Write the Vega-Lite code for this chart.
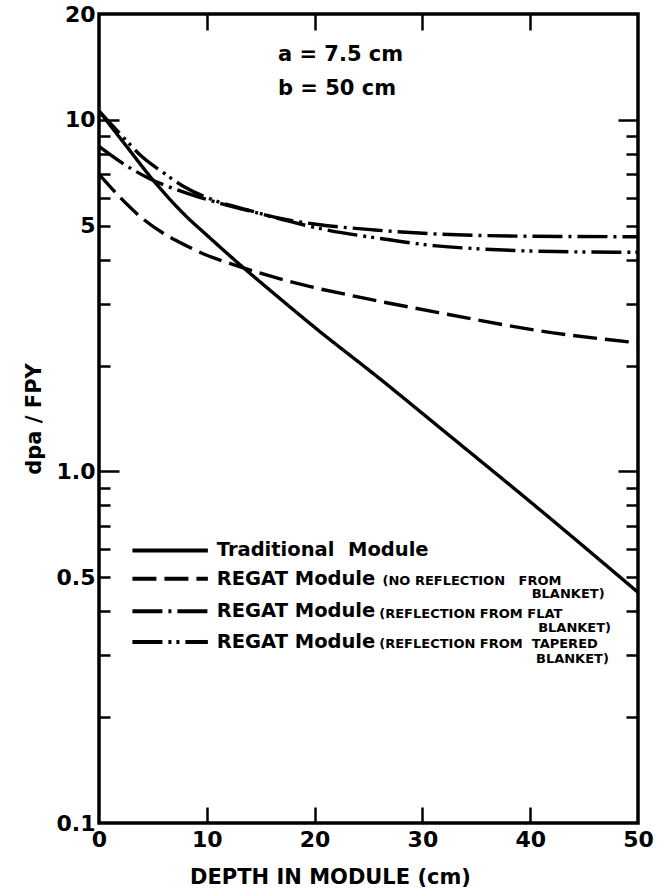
{
  "$schema": "https://vega.github.io/schema/vega-lite/v6.json",
  "autosize": {"type": "none"},
  "padding": {"left": 99, "top": 14, "right": 34, "bottom": 71},
  "width": 539,
  "height": 809,
  "background": "white",
  "config": {
    "view": {"stroke": "black", "strokeWidth": 3.5},
    "font": "DejaVu Sans",
    "axis": {"labelFont": "DejaVu Sans", "titleFont": "DejaVu Sans", "labelColor": "black", "titleColor": "black", "tickColor": "black", "grid": false}
  },
  "datasets": {
    "series": [
      {"series": "Traditional", "x": 0, "y": 10.6},
      {"series": "Traditional", "x": 2.5, "y": 8.45},
      {"series": "Traditional", "x": 5, "y": 6.75},
      {"series": "Traditional", "x": 8, "y": 5.35},
      {"series": "Traditional", "x": 10, "y": 4.7},
      {"series": "Traditional", "x": 13.3, "y": 3.82},
      {"series": "Traditional", "x": 16, "y": 3.25},
      {"series": "Traditional", "x": 20, "y": 2.57},
      {"series": "Traditional", "x": 26, "y": 1.84},
      {"series": "Traditional", "x": 32.3, "y": 1.28},
      {"series": "Traditional", "x": 40, "y": 0.82},
      {"series": "Traditional", "x": 50, "y": 0.453},
      {"series": "REGAT none", "x": 0, "y": 7.0},
      {"series": "REGAT none", "x": 2, "y": 6.0},
      {"series": "REGAT none", "x": 4, "y": 5.25},
      {"series": "REGAT none", "x": 6, "y": 4.75},
      {"series": "REGAT none", "x": 8, "y": 4.4},
      {"series": "REGAT none", "x": 10, "y": 4.12},
      {"series": "REGAT none", "x": 12.4, "y": 3.88},
      {"series": "REGAT none", "x": 18.3, "y": 3.43},
      {"series": "REGAT none", "x": 24.6, "y": 3.11},
      {"series": "REGAT none", "x": 32.3, "y": 2.8},
      {"series": "REGAT none", "x": 40.9, "y": 2.51},
      {"series": "REGAT none", "x": 50, "y": 2.32},
      {"series": "REGAT flat", "x": 0, "y": 8.4},
      {"series": "REGAT flat", "x": 2.4, "y": 7.45},
      {"series": "REGAT flat", "x": 4.7, "y": 6.8},
      {"series": "REGAT flat", "x": 7.4, "y": 6.3},
      {"series": "REGAT flat", "x": 10.7, "y": 5.85},
      {"series": "REGAT flat", "x": 14, "y": 5.5},
      {"series": "REGAT flat", "x": 17.7, "y": 5.18},
      {"series": "REGAT flat", "x": 20.3, "y": 5.04},
      {"series": "REGAT flat", "x": 25.6, "y": 4.86},
      {"series": "REGAT flat", "x": 31.6, "y": 4.73},
      {"series": "REGAT flat", "x": 38.9, "y": 4.67},
      {"series": "REGAT flat", "x": 50, "y": 4.65},
      {"series": "REGAT tapered", "x": 0, "y": 10.6},
      {"series": "REGAT tapered", "x": 2, "y": 9.1},
      {"series": "REGAT tapered", "x": 4, "y": 7.85},
      {"series": "REGAT tapered", "x": 5.9, "y": 7.1},
      {"series": "REGAT tapered", "x": 7.9, "y": 6.45},
      {"series": "REGAT tapered", "x": 10.7, "y": 5.9},
      {"series": "REGAT tapered", "x": 14, "y": 5.52},
      {"series": "REGAT tapered", "x": 17.7, "y": 5.14},
      {"series": "REGAT tapered", "x": 21.3, "y": 4.85},
      {"series": "REGAT tapered", "x": 25.6, "y": 4.62},
      {"series": "REGAT tapered", "x": 31.3, "y": 4.38},
      {"series": "REGAT tapered", "x": 35.6, "y": 4.29},
      {"series": "REGAT tapered", "x": 42.3, "y": 4.22},
      {"series": "REGAT tapered", "x": 50, "y": 4.2}
    ],
    "legendLines": [
      {"series": "Traditional", "x": 3.1, "y": 0.596},
      {"series": "Traditional", "x": 10.1, "y": 0.596},
      {"series": "REGAT none", "x": 3.1, "y": 0.495},
      {"series": "REGAT none", "x": 10.1, "y": 0.495},
      {"series": "REGAT flat", "x": 3.1, "y": 0.4},
      {"series": "REGAT flat", "x": 10.1, "y": 0.4},
      {"series": "REGAT tapered", "x": 3.1, "y": 0.327},
      {"series": "REGAT tapered", "x": 10.1, "y": 0.327}
    ],
    "legendMain": [
      {"text": "Traditional\u00a0\u00a0Module", "x": 10.92, "y": 0.596},
      {"text": "REGAT Module", "x": 10.92, "y": 0.495},
      {"text": "REGAT Module", "x": 10.92, "y": 0.4},
      {"text": "REGAT Module", "x": 10.92, "y": 0.327}
    ],
    "legendSmall": [
      {"text": "(NO REFLECTION\u00a0\u00a0\u00a0FROM", "x": 26.3, "y": 0.487},
      {"text": "(REFLECTION FROM FLAT", "x": 26.0, "y": 0.393},
      {"text": "(REFLECTION FROM\u00a0\u00a0TAPERED", "x": 26.0, "y": 0.324}
    ],
    "legendSmallRight": [
      {"text": "BLANKET)", "x": 46.9, "y": 0.449},
      {"text": "BLANKET)", "x": 47.5, "y": 0.3593},
      {"text": "BLANKET)", "x": 47.3, "y": 0.2925}
    ],
    "notes": [
      {"text": "a = 7.5 cm", "x": 16.6, "y": 15.34},
      {"text": "b = 50 cm", "x": 16.6, "y": 12.2}
    ]
  },
  "resolve": {"axis": {"x": "independent", "y": "independent"}},
  "layer": [
    {
      "data": {"name": "series"},
      "mark": {"type": "line", "color": "black", "strokeWidth": 3.4, "interpolate": "monotone", "clip": true},
      "encoding": {
        "x": {"field": "x", "type": "quantitative",
          "scale": {"domain": [0, 50], "nice": false, "zero": false},
          "axis": {"orient": "bottom", "values": [0, 10, 20, 30, 40, 50], "ticks": false, "domain": false,
            "labelFontSize": 22, "labelFontWeight": "bold", "labelPadding": 6, "labelFlush": false, "labelOverlap": false,
            "title": "DEPTH IN MODULE (cm)", "titleFontSize": 21, "titleFontWeight": "bold", "titlePadding": 16, "titleX": 231, "titleAlign": "center"}},
        "y": {"field": "y", "type": "quantitative",
          "scale": {"type": "log", "domain": [0.1, 20], "nice": false},
          "axis": {"orient": "left", "values": [0.1, 0.5, 1, 5, 10, 20], "ticks": false, "domain": false,
            "labelExpr": "datum.value == 1 ? '1.0' : datum.value == 0.5 ? '0.5' : datum.value == 0.1 ? '0.1' : datum.value == 5 ? '5' : datum.value == 10 ? '10' : '20'",
            "labelFontSize": 22, "labelFontWeight": "bold", "labelPadding": 4, "labelOverlap": false, "labelFlush": false,
            "title": "dpa / FPY", "titleFontSize": 21, "titleFontWeight": "bold", "titlePadding": 12}},
        "strokeDash": {"field": "series", "type": "nominal", "legend": null,
          "scale": {"domain": ["Traditional", "REGAT none", "REGAT flat", "REGAT tapered"],
            "range": [[1, 0], [24, 8], [30, 6, 3, 6], [30, 6, 3, 5, 3, 6]]}}
      }
    },
    {
      "data": {"name": "legendLines"},
      "mark": {"type": "line", "color": "black", "strokeWidth": 4},
      "encoding": {
        "x": {"field": "x", "type": "quantitative",
          "axis": {"orient": "bottom", "values": [10, 20, 30, 40], "labels": false, "domain": false, "title": null,
            "tickSize": -16, "tickWidth": 2.5}},
        "y": {"field": "y", "type": "quantitative",
          "axis": {"orient": "left", "values": [0.2, 0.3, 0.4, 0.5, 0.6, 0.7, 0.8, 0.9, 1, 2, 3, 4, 5, 6, 7, 8, 9, 10],
            "labels": false, "domain": false, "title": null, "tickWidth": 2.5,
            "tickSize": {"condition": {"test": "datum.value == 1 || datum.value == 10", "value": -20}, "value": -11}}},
        "strokeDash": {"field": "series", "type": "nominal", "legend": null}
      }
    },
    {
      "data": {"name": "legendMain"},
      "mark": {"type": "text", "align": "left", "baseline": "middle", "fontSize": 19.5, "fontWeight": "bold", "font": "DejaVu Sans", "color": "black"},
      "encoding": {
        "x": {"field": "x", "type": "quantitative",
          "axis": {"orient": "top", "values": [10, 20, 30, 40], "labels": false, "domain": false, "title": null,
            "tickSize": -16, "tickWidth": 2.5}},
        "y": {"field": "y", "type": "quantitative",
          "axis": {"orient": "right", "values": [0.2, 0.3, 0.4, 0.5, 0.6, 0.7, 0.8, 0.9, 1, 2, 3, 4, 5, 6, 7, 8, 9, 10],
            "labels": false, "domain": false, "title": null, "tickWidth": 2.5,
            "tickSize": {"condition": {"test": "datum.value == 1 || datum.value == 10", "value": -20}, "value": -12}}},
        "text": {"field": "text"}
      }
    },
    {
      "data": {"name": "legendSmall"},
      "mark": {"type": "text", "align": "left", "baseline": "middle", "fontSize": 13, "fontWeight": "bold", "font": "DejaVu Sans", "color": "black"},
      "encoding": {
        "x": {"field": "x", "type": "quantitative", "axis": null},
        "y": {"field": "y", "type": "quantitative", "axis": null},
        "text": {"field": "text"}
      }
    },
    {
      "data": {"name": "legendSmallRight"},
      "mark": {"type": "text", "align": "right", "baseline": "middle", "fontSize": 13, "fontWeight": "bold", "font": "DejaVu Sans", "color": "black"},
      "encoding": {
        "x": {"field": "x", "type": "quantitative", "axis": null},
        "y": {"field": "y", "type": "quantitative", "axis": null},
        "text": {"field": "text"}
      }
    },
    {
      "data": {"name": "notes"},
      "mark": {"type": "text", "align": "left", "baseline": "middle", "fontSize": 21, "fontWeight": "bold", "font": "DejaVu Sans", "color": "black"},
      "encoding": {
        "x": {"field": "x", "type": "quantitative", "axis": null},
        "y": {"field": "y", "type": "quantitative", "axis": null},
        "text": {"field": "text"}
      }
    }
  ]
}
